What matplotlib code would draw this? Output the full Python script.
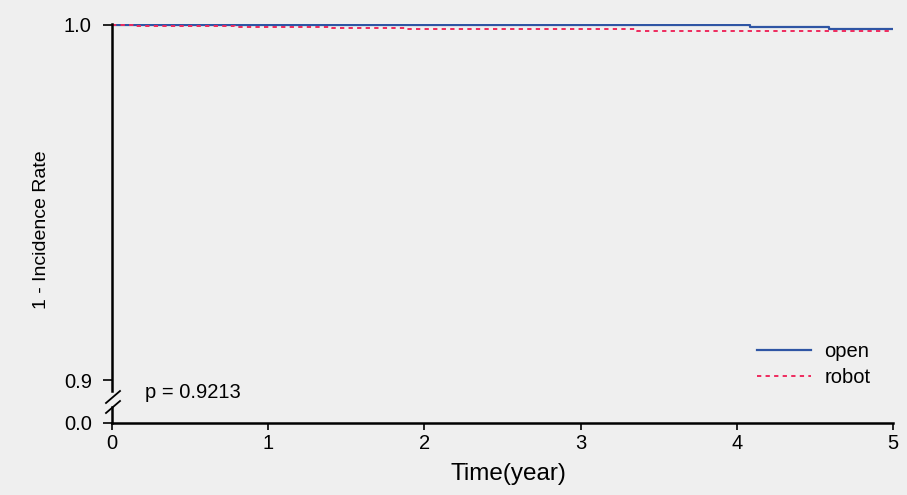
import numpy as np
import matplotlib
matplotlib.use("Agg")
import matplotlib.pyplot as plt

# step curves (1 - cumulative incidence)
open_time = [0.0, 4.085, 4.59, 5.0]
open_surv = [1.0, 0.99943, 0.99879, 0.99879]
robot_time = [0.0, 0.147, 0.79, 1.41, 1.876, 3.36, 5.0]
robot_surv = [1.0, 0.9998, 0.99955, 0.9992, 0.99885, 0.9984, 0.9984]

group_names = ["open", "robot"]
p_text = "p = 0.9213"
x_ticks = [0, 1, 2, 3, 4, 5]
y_tick_labels = ["0.0", "0.9", "1.0"]

bg = "#EFEFEF"
blue = "#2F55A4"
red = "#EE2A5E"

plt.rcParams["font.family"] = ["Liberation Sans", "DejaVu Sans"]

fig = plt.figure(figsize=(9.07, 4.95), dpi=100, facecolor=bg)
ax = fig.add_axes([112/907, 72/495, 781/907, 399/495], facecolor=bg)

# broken axis: everything below 0.9 squeezed into a short stretch
px = 0.1/355  # data units per pixel on y
y_bottom = 0.9 - 43*px
y_top = 1.0 + 1*px
zero_pos = y_bottom

ax.plot(open_time, open_surv, drawstyle="steps-post", color=blue, lw=1.6, label=group_names[0])
ax.plot(robot_time, robot_surv, drawstyle="steps-post", color=red, lw=1.4,
        linestyle=(0, (2.2, 2.2)), label=group_names[1])

ax.set_xlim(0, 5)
ax.set_ylim(y_bottom, y_top)
ax.set_xticks(x_ticks)
ax.set_xticklabels([str(t) for t in x_ticks])
ax.set_yticks([zero_pos, 0.9, 1.0])
ax.set_yticklabels(y_tick_labels)
ax.tick_params(axis="y", direction="out", length=6.5, width=1.2, labelsize=14.5,
               colors="black", pad=8)
ax.tick_params(axis="x", direction="out", length=5, width=1.2, labelsize=14.5,
               colors="black", pad=3)

for s in ["top", "right", "left"]:
    ax.spines[s].set_visible(False)
ax.spines["bottom"].set_linewidth(1.8)

# left axis line with break marks
yt = ax.get_yaxis_transform()
ax.plot([0, 0], [0.9 - 11*px, y_top], color="black", lw=1.8, transform=yt, clip_on=False)
ax.plot([0, 0], [y_bottom, 0.9 - 27*px], color="black", lw=1.8, transform=yt, clip_on=False)
dx = 1/781  # axes units per pixel on x
for off in [0, 10]:
    ax.plot([-6*dx, 8*dx], [0.9 - (23 + off)*px, 0.9 - (11 + off)*px],
            color="black", lw=1.3, transform=yt, clip_on=False)

ax.set_xlabel("Time(year)", fontsize=17.5)
ax.xaxis.set_label_coords(0.507, -0.1)
ax.set_ylabel("1 - Incidence Rate", fontsize=14)
ax.yaxis.set_label_coords(-0.079, 0.484)

ax.text(0.21, 0.9 - 13*px, p_text, fontsize=14.5, va="center", ha="left")

ax.legend(loc="upper left", bbox_to_anchor=(757/907, 153/495), bbox_transform=fig.transFigure,
          frameon=False, fontsize=14.5, borderpad=0, borderaxespad=0,
          handlelength=2.7, handletextpad=0.65, labelspacing=0.35)

fig.savefig("out.png", dpi=100, facecolor=bg)
